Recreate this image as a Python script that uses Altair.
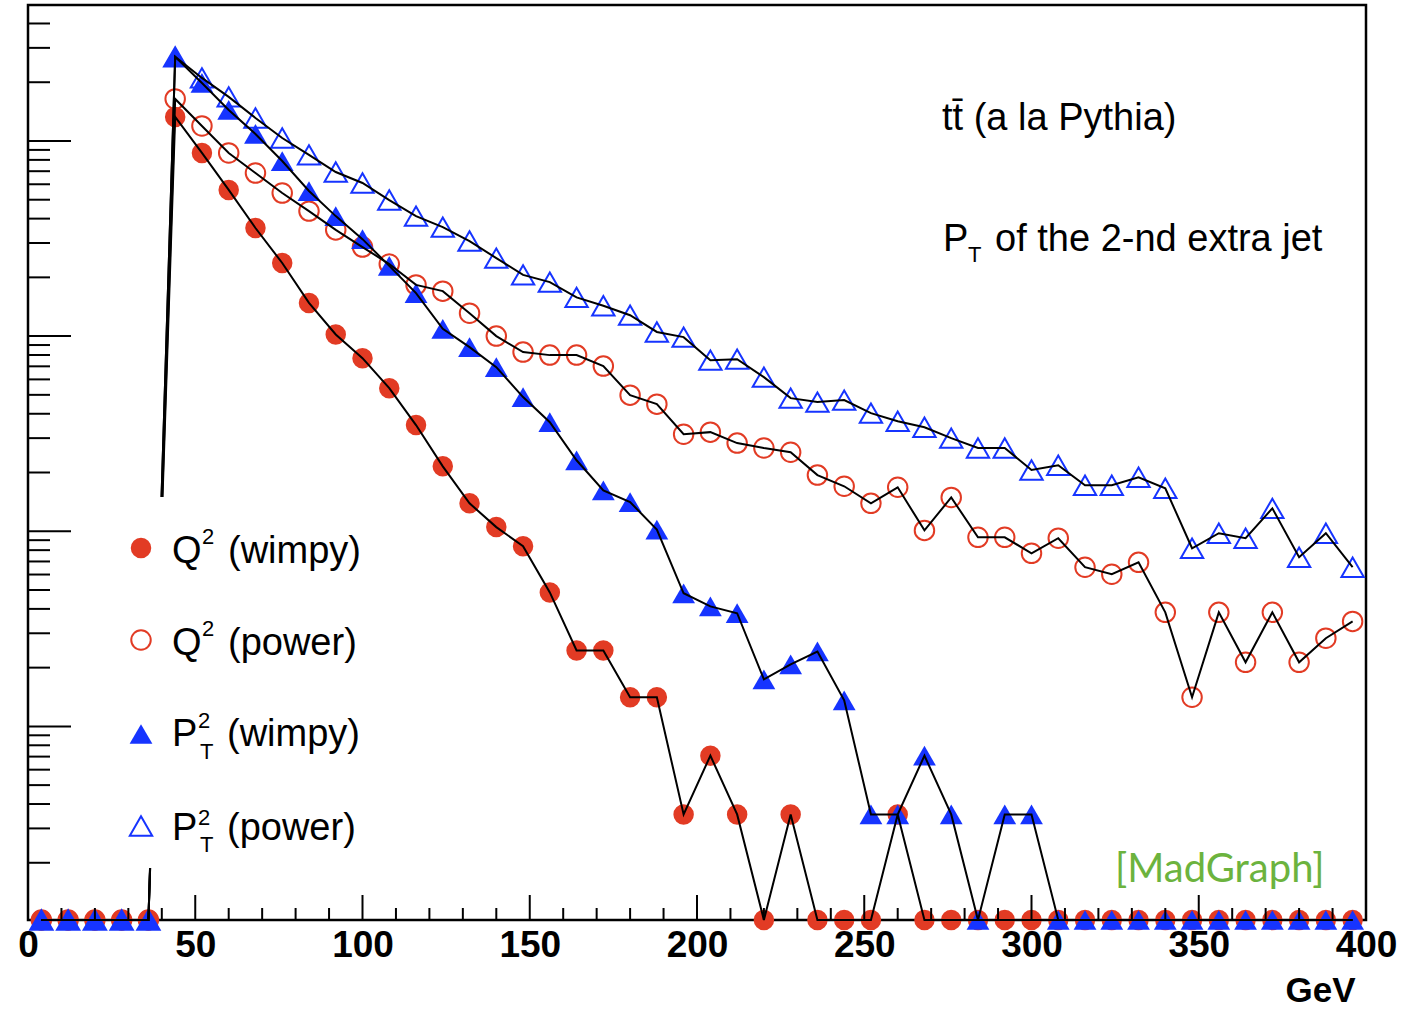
import altair as alt
import pandas as pd

# ---------------- data (bin centres in GeV, 8 GeV bins) ----------------
GEV = [4, 12, 20, 28, 36, 44, 52, 60, 68, 76, 84, 92, 100, 108, 116, 124, 132,
       140, 148, 156, 164, 172, 180, 188, 196, 204, 212, 220, 228, 236, 244,
       252, 260, 268, 276, 284, 292, 300, 308, 316, 324, 332, 340, 348, 356,
       364, 372, 380, 388, 396]

Q2_WIMPY = [0, 0, 0, 0, 0, 1327, 868, 561, 358, 237, 148, 102, 77.1, 54.1,
            35.0, 21.5, 13.9, 10.5, 8.38, 4.86, 2.45, 2.45, 1.41, 1.41, 0.354,
            0.708, 0.354, 0, 0.354, 0, 0, 0, 0.354, 0, 0, 0, 0, 0, 0, 0, 0, 0,
            0, 0, 0, 0, 0, 0, 0, 0]

Q2_POWER = [0, 0, 0, 0, 0, 1642, 1194, 868, 685, 541, 437, 350, 286, 234,
            183, 170, 131, 100, 82.8, 79.9, 79.9, 70.2, 49.8, 44.8, 31.4, 32.2,
            28.3, 26.7, 25.4, 19.4, 17.0, 13.9, 16.8, 10.1, 14.9, 9.31, 9.31,
            7.71, 9.21, 6.54, 6.02, 6.93, 3.84, 1.41, 3.84, 2.13, 3.84, 2.13,
            2.83, 3.45]

PT2_WIMPY = [0, 0, 0, 0, 0, 2698, 1983, 1442, 1086, 789, 554, 412, 314, 229,
             166, 109, 87.8, 69.3, 48.7, 36.2, 23.1, 16.2, 14.1, 10.2, 4.81,
             4.12, 3.80, 1.74, 2.08, 2.42, 1.36, 0.354, 0.354, 0.708, 0.354, 0,
             0.354, 0.354, 0, 0, 0, 0, 0, 0, 0, 0, 0, 0, 0, 0]

PT2_POWER = [0, 0, 0, 0, 0, 2698, 2104, 1682, 1312, 1036, 848, 693, 609, 498,
             412, 362, 307, 251, 206, 189, 158, 143, 128, 105, 98.8, 75.3, 76.2,
             61.6, 48.1, 45.9, 47.0, 40.3, 36.6, 34.1, 30.0, 26.7, 26.7, 20.6,
             21.8, 17.2, 17.2, 18.9, 16.6, 8.18, 9.77, 9.21, 13.1, 7.36, 9.77,
             6.54]

SERIES = ["Q2 (wimpy)", "Q2 (power)", "PT2 (wimpy)", "PT2 (power)"]
X_LABELS = [0, 50, 100, 150, 200, 250, 300, 350, 400]
X_MAJOR_TICKS = [50, 100, 150, 200, 250, 300, 350]
X_MINOR_TICKS = [10, 20, 30, 40, 60, 70, 80, 90, 110, 120, 130, 140, 160, 170,
                 180, 190, 210, 220, 230, 240, 260, 270, 280, 290, 310, 320,
                 330, 340, 360, 370, 380, 390]
Y_MAJOR_TICKS = [1, 10, 100, 1000]
Y_MINOR_TICKS = [0.2, 0.3, 0.4, 0.5, 0.6, 0.7, 0.8, 0.9,
                 2, 3, 4, 5, 6, 7, 8, 9,
                 20, 30, 40, 50, 60, 70, 80, 90,
                 200, 300, 400, 500, 600, 700, 800, 900,
                 2000, 3000, 4000]

# ---------------- build table ----------------
rows = []
for name, vals in zip(SERIES, [Q2_WIMPY, Q2_POWER, PT2_WIMPY, PT2_POWER]):
    for g, v in zip(GEV, vals):
        rows.append({"series": name, "gev": g, "value": v})
df = pd.DataFrame(rows)

YMIN, YMAX = 0.1018, 4975
df["yv"] = df["value"].clip(lower=YMIN)   # empty bins drawn on the axis floor

W, H = 1338, 915
RED = "#e23b24"
BLUE = "#1634ff"
FONT = "Liberation Sans"

xscale = alt.Scale(domain=[0, 400], nice=False, zero=False)
yscale = alt.Scale(type="log", domain=[YMIN, YMAX], nice=False)

xaxis = alt.Axis(values=X_LABELS, ticks=False, domain=False, grid=False,
                 labelFont=FONT, labelFontWeight="bold", labelFontSize=37,
                 labelColor="black", labelPadding=7, labelFlush=False,
                 labelOverlap=False,
                 title="GeV", titleFont=FONT, titleFontWeight="bold",
                 titleFontSize=35, titleColor="black", titleAlign="right",
                 titleAnchor="end", titleBaseline="alphabetic",
                 titleX=1327, titleY=81)

X = alt.X("gev:Q", scale=xscale, axis=xaxis)
Y = alt.Y("yv:Q", scale=yscale, axis=None)

base = alt.Chart(df)

STYLE = {
    "Q2 (wimpy)": dict(shape="circle", filled=True, color=RED, size=420),
    "Q2 (power)": dict(shape="circle", filled=False, color=RED, size=380, strokeWidth=2),
    "PT2 (wimpy)": dict(shape="triangle-up", filled=True, color=BLUE, size=520),
    "PT2 (power)": dict(shape="triangle-up", filled=False, color=BLUE, size=500, strokeWidth=2),
}

point_layers = []
for name in SERIES:
    point_layers.append(
        base.transform_filter(alt.datum.series == name)
        .mark_point(opacity=1, **STYLE[name])
        .encode(x=X, y=Y)
    )

lines = base.mark_line(color="black", strokeWidth=2).encode(
    x=X, y=Y, detail="series:N", order="gev:Q"
)

# ---------------- inward ticks ----------------
def yticks(vals, length):
    return alt.Chart(pd.DataFrame({"t": vals})).mark_rule(
        color="black", strokeWidth=2
    ).encode(y=alt.Y("t:Q", scale=yscale, axis=None),
             x=alt.value(0), x2=alt.value(length))

def xticks(vals, length):
    return alt.Chart(pd.DataFrame({"gev": vals})).mark_rule(
        color="black", strokeWidth=2
    ).encode(x=X, y=alt.value(H), y2=alt.value(H - length))

tick_layers = [yticks(Y_MAJOR_TICKS, 43), yticks(Y_MINOR_TICKS, 22),
               xticks(X_MAJOR_TICKS, 25), xticks(X_MINOR_TICKS, 12)]

# ---------------- legend & annotations ----------------
ONE = alt.Data(values=[{}])

def txt(s, x, y, size, font=FONT, color="black", weight="normal"):
    return alt.Chart(ONE).mark_text(
        text=s, align="left", baseline="alphabetic", font=font,
        fontSize=size, color=color, fontWeight=weight
    ).encode(x=alt.value(x), y=alt.value(y))

def sym(name, x, y):
    return alt.Chart(ONE).mark_point(opacity=1, **STYLE[name]).encode(
        x=alt.value(x), y=alt.value(y))

legend_box = alt.Chart(ONE).mark_rect(color="white").encode(
    x=alt.value(77), x2=alt.value(347), y=alt.value(492), y2=alt.value(863))

legend = [
    legend_box,
    sym("Q2 (wimpy)", 113, 543),
    txt("Q", 144, 558, 38), txt("2", 174, 539, 22), txt("(wimpy)", 200, 558, 38),
    sym("Q2 (power)", 113, 635),
    txt("Q", 144, 650, 38), txt("2", 174, 631, 22), txt("(power)", 200, 650, 38),
    sym("PT2 (wimpy)", 113, 729),
    txt("P", 144, 741, 38), txt("2", 170, 723, 22), txt("T", 172, 754, 22),
    txt("(wimpy)", 199, 741, 38),
    sym("PT2 (power)", 113, 821),
    txt("P", 144, 835, 38), txt("2", 170, 820, 22), txt("T", 172, 847, 22),
    txt("(power)", 199, 835, 38),
]

annotations = [
    txt("tt\u0304 (a la Pythia)", 914, 125, 38),
    txt("P", 915, 246, 38), txt("T", 940, 257, 22),
    txt("of the 2-nd extra jet", 967, 246, 38),
    txt("[MadGraph]", 1087, 877, 40, font="Lato", color="#6cb33e"),
]

chart = alt.layer(
    *point_layers, lines, *tick_layers, *legend, *annotations
).properties(
    width=W, height=H,
    autosize=alt.AutoSizeParams(type="none"),
    padding={"left": 28, "top": 5, "right": 36, "bottom": 91},
).configure(background="white").configure_view(stroke="black", strokeWidth=2.5)

chart.save("out.html", embed_options={"renderer": "svg", "actions": False})
